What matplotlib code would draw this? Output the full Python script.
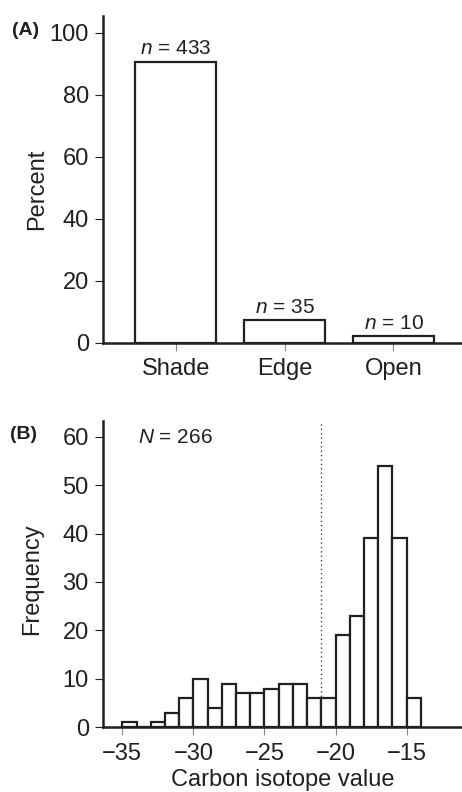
import matplotlib
matplotlib.use("Agg")
import matplotlib.pyplot as plt
import numpy as np

plt.rcParams['font.family'] = ['Liberation Sans', 'DejaVu Sans']
plt.rcParams['mathtext.fontset'] = 'custom'
plt.rcParams['mathtext.it'] = 'Liberation Sans:italic'
plt.rcParams['mathtext.rm'] = 'Liberation Sans'

# Panel A data
habitats = ["Shade", "Edge", "Open"]
counts = [433, 35, 10]
percent = [90.6, 7.3, 2.1]

# Panel B data (histogram, 1-unit bins)
bin_edges = list(range(-35, -13))
frequency = [1, 0, 1, 3, 6, 10, 4, 9, 7, 7, 8, 9, 9, 6, 6, 19, 23, 39, 54, 39, 6]
threshold = -21
N_total = 266

txt = '#231f20'
fs = 17
fs_small = 15

fig = plt.figure(figsize=(4.62, 7.92), dpi=100)
axA = fig.add_axes([0.2223, 0.5673, 0.7777, 0.4125])
axB = fig.add_axes([0.2223, 0.0817, 0.7777, 0.3871])

for ax in (axA, axB):
    for s in ('top', 'right'):
        ax.spines[s].set_visible(False)
    for s in ('left', 'bottom'):
        ax.spines[s].set_linewidth(1.8)
        ax.spines[s].set_color(txt)
    ax.tick_params(axis='both', direction='out', length=5.5, width=0.8,
                   color='#888888', labelsize=fs, labelcolor=txt)
    ax.tick_params(axis='y', pad=4.5, color=txt)
    ax.tick_params(axis='x', pad=5.5)

# Panel A
x = np.arange(len(habitats))
axA.bar(x, percent, width=0.745, facecolor='white', edgecolor=txt, linewidth=1.6, zorder=3)
for xi, p, c in zip(x, percent, counts):
    axA.text(xi, p + 2.4, r"$\it{n}$" + f" = {c}", ha='center', va='baseline',
             fontsize=fs_small, color=txt)
axA.set_xticks(x)
axA.set_xticklabels(habitats)
axA.set_xlim(-0.672, 2.63)
axA.set_ylim(0, 105.4)
axA.set_yticks([0, 20, 40, 60, 80, 100])
axA.set_ylabel("Percent", fontsize=fs, color=txt)
axA.yaxis.set_label_coords(-0.152, 0.47)
fig.text(0.026, 0.962, "(A)", fontsize=14, fontweight='bold', color=txt, va='center')

# Panel B
axB.bar(bin_edges[:-1], frequency, width=1, align='edge', facecolor='white',
        edgecolor=txt, linewidth=1.6, zorder=3)
axB.axvline(threshold, color=txt, linestyle=(0, (1, 2.5)), linewidth=0.9, zorder=2)
axB.text(-33.9, 58.7, r"$\it{N}$" + f" = {N_total}", ha='left', va='baseline',
         fontsize=fs_small, color=txt)
axB.set_xlim(-36.38, -11.1)
axB.set_ylim(0, 63.3)
axB.set_xticks([-35, -30, -25, -20, -15])
axB.set_xticklabels(["\u221235", "\u221230", "\u221225", "\u221220", "\u221215"])
axB.set_yticks([0, 10, 20, 30, 40, 50, 60])
axB.set_xlabel("Carbon isotope value", fontsize=fs, color=txt)
axB.xaxis.set_label_coords(0.5, -0.136)
axB.set_ylabel("Frequency", fontsize=fs, color=txt)
axB.yaxis.set_label_coords(-0.166, 0.484)
fig.text(0.022, 0.452, "(B)", fontsize=14, fontweight='bold', color=txt, va='center')

fig.savefig("out.png", dpi=100)
